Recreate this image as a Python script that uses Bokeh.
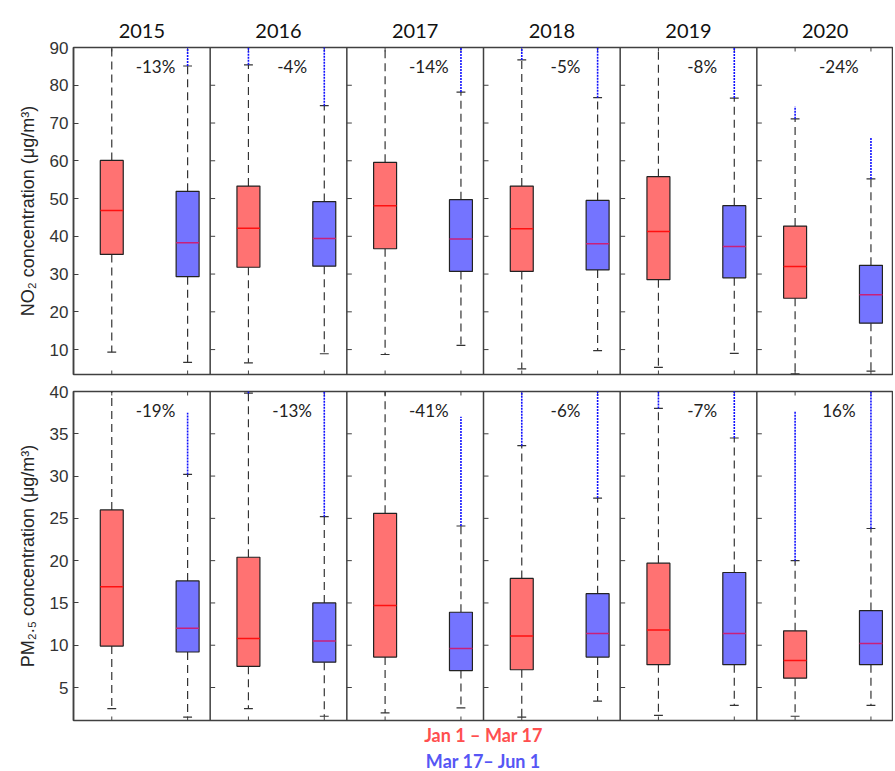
from bokeh.plotting import figure
from bokeh.layouts import column
from bokeh.models import Range1d, LinearAxis, FixedTicker, Title
from bokeh.core.properties import value
from bokeh.embed import file_html
from bokeh.resources import INLINE

# ---------------- data ----------------
years = ["2015", "2016", "2017", "2018", "2019", "2020"]

# NO2, period 1 (Jan 1 - Mar 17)
no2_red_q1 = [35.2, 31.8, 36.7, 30.7, 28.5, 23.6]
no2_red_med = [46.8, 42.1, 48.1, 42.0, 41.3, 32.0]
no2_red_q3 = [60.1, 53.3, 59.6, 53.3, 55.8, 42.7]
no2_red_lo = [9.3, 6.5, 8.7, 4.9, 5.3, 3.6]
no2_red_hi = [93.0, 85.4, 93.0, 86.7, 93.0, 71.1]
no2_red_out = [None, 93.0, None, 93.0, None, 74.4]
# NO2, period 2 (Mar 17 - Jun 1)
no2_blue_q1 = [29.3, 32.1, 30.7, 31.1, 29.0, 17.0]
no2_blue_med = [38.3, 39.4, 39.3, 38.0, 37.3, 24.5]
no2_blue_q3 = [51.9, 49.2, 49.7, 49.5, 48.1, 32.3]
no2_blue_lo = [6.6, 8.9, 11.1, 9.7, 9.0, 4.3]
no2_blue_hi = [85.1, 74.6, 78.2, 76.7, 76.6, 55.2]
no2_blue_out = [93.0, 93.0, 93.0, 93.0, 93.0, 66.2]
no2_pct = ["-13%", "-4%", "-14%", "-5%", "-8%", "-24%"]

# PM2.5, period 1
pm_red_q1 = [9.9, 7.5, 8.6, 7.1, 7.7, 6.1]
pm_red_med = [16.9, 10.8, 14.7, 11.1, 11.8, 8.2]
pm_red_q3 = [26.0, 20.4, 25.6, 17.9, 19.7, 11.7]
pm_red_lo = [2.5, 2.5, 2.0, 1.5, 1.7, 1.6]
pm_red_hi = [42.0, 39.8, 42.0, 33.6, 38.0, 20.0]
pm_red_out = [None, 42.0, None, 42.0, 42.0, 37.6]
# PM2.5, period 2
pm_blue_q1 = [9.2, 8.0, 7.0, 8.6, 7.7, 7.7]
pm_blue_med = [12.0, 10.5, 9.6, 11.4, 11.4, 10.2]
pm_blue_q3 = [17.6, 15.0, 13.9, 16.1, 18.6, 14.1]
pm_blue_lo = [1.5, 1.6, 2.6, 3.4, 2.9, 2.9]
pm_blue_hi = [30.2, 25.2, 24.1, 27.4, 34.5, 23.8]
pm_blue_out = [37.5, 42.0, 37.0, 42.0, 42.0, 42.0]
pm_pct = ["-19%", "-13%", "-41%", "-6%", "-7%", "16%"]

no2_ticks = [10, 20, 30, 40, 50, 60, 70, 80, 90]
pm_ticks = [5, 10, 15, 20, 25, 30, 35, 40]

legend_labels = ["Jan 1 \u2013 Mar 17", "Mar 17\u2013 Jun 1"]

# ---------------- style ----------------
RED_FILL = "#FF7272"
BLUE_FILL = "#7474FF"
RED_TXT = "#FF4F4F"
BLUE_TXT = "#5656F5"
FRAME_C = "#404040"
RED_OFF, BLUE_OFF = 0.28, 0.835
BOX_W, CAP_W = 0.168, 0.065
FRAME_W = 820
LEFT = 73
N = len(years)
PX_X = FRAME_W / N


def draw_group(p, offs, q1, med, q3, lo, hi, out, fill, med_color):
    xs = [i + offs for i in range(N)]
    # whiskers
    p.segment(x0=xs, x1=xs, y0=q3, y1=hi, line_color="#333333", line_width=1.2, line_dash="8 5")
    p.segment(x0=xs, x1=xs, y0=q1, y1=lo, line_color="#333333", line_width=1.2, line_dash="8 5")
    # caps
    cl = [x - CAP_W / 2 for x in xs]
    cr = [x + CAP_W / 2 for x in xs]
    p.segment(x0=cl, x1=cr, y0=hi, y1=hi, line_color="#333333", line_width=1.2)
    p.segment(x0=cl, x1=cr, y0=lo, y1=lo, line_color="#333333", line_width=1.2)
    # outliers (dense blue markers)
    ox = [x for x, o in zip(xs, out) if o is not None]
    oy0 = [h for h, o in zip(hi, out) if o is not None]
    oy1 = [o for o in out if o is not None]
    p.segment(x0=ox, x1=ox, y0=oy0, y1=oy1, line_color="#1010FF", line_width=1.6, line_dash="2 1")
    # boxes
    left = [x - BOX_W / 2 for x in xs]
    right = [x + BOX_W / 2 for x in xs]
    p.quad(left=left, right=right, bottom=q1, top=q3, fill_color=fill, fill_alpha=1.0,
           line_color="#222222", line_width=1.2)
    p.segment(x0=left, x1=right, y0=med, y1=med, line_color=med_color, line_width=1.5)


def make_panel(ymin, ymax, yticks, ylabel, red, blue, pcts, pct_y, frame_h, top_b, bot_b):
    p = figure(frame_width=FRAME_W, frame_height=frame_h,
               x_range=Range1d(0, N), y_range=Range1d(ymin, ymax),
               x_axis_location=None, output_backend="svg", toolbar_location=None,
               min_border_left=LEFT, min_border_right=0, min_border_top=top_b, min_border_bottom=bot_b)
    p.background_fill_color = "white"
    p.border_fill_color = "white"
    p.grid.visible = False
    p.outline_line_color = FRAME_C
    p.outline_line_width = 1.5
    p.outline_line_alpha = 1.0

    ax = p.yaxis[0]
    ax.ticker = FixedTicker(ticks=yticks)
    ax.major_tick_in = 5
    ax.major_tick_out = 0
    ax.minor_tick_line_color = None
    ax.axis_line_color = FRAME_C
    ax.axis_line_width = 1.5
    ax.major_tick_line_color = FRAME_C
    ax.major_label_text_font = "Liberation Sans"
    ax.major_label_text_font_size = "17px"
    ax.major_label_text_color = "#333333"
    ax.major_label_standoff = 5
    ax.axis_label = ylabel
    ax.axis_label_text_font = "Liberation Sans"
    ax.axis_label_text_font_size = "18px"
    ax.axis_label_text_font_style = "normal"
    ax.axis_label_text_color = "#262626"
    ax.axis_label_standoff = 9

    ppu_y = frame_h / (ymax - ymin)

    # panel dividers
    divs = list(range(1, N))
    p.segment(x0=divs, x1=divs, y0=[ymin] * len(divs), y1=[ymax] * len(divs),
              line_color=FRAME_C, line_width=1.5)
    # small inward ticks at each divider
    tx0, tx1, ty = [], [], []
    for d in divs:
        for t in yticks:
            tx0.append(d)
            tx1.append(d + 5 / PX_X)
            ty.append(t)
    p.segment(x0=tx0, x1=tx1, y0=ty, y1=ty, line_color=FRAME_C, line_width=1)
    # x ticks at box positions on top and bottom frame
    bx = [i + o for i in range(N) for o in (RED_OFF, BLUE_OFF)]
    p.segment(x0=bx, x1=bx, y0=[ymin] * len(bx), y1=[ymin + 4 / ppu_y] * len(bx), line_color=FRAME_C, line_width=1)
    p.segment(x0=bx, x1=bx, y0=[ymax] * len(bx), y1=[ymax - 4 / ppu_y] * len(bx), line_color=FRAME_C, line_width=1)

    draw_group(p, RED_OFF, *red, RED_FILL, "#FF1010")
    draw_group(p, BLUE_OFF, *blue, BLUE_FILL, "#C8207A")

    p.text(x=[i + 0.6 for i in range(N)], y=[pct_y] * N, text=pcts,
           text_font=value("Lato"), text_font_size="17px", text_color="#222222",
           text_align="center", text_baseline="middle")
    return p


top = make_panel(3.4, 90, no2_ticks, "NO\u2082 concentration (\u03bcg/m\u00b3)",
                 (no2_red_q1, no2_red_med, no2_red_q3, no2_red_lo, no2_red_hi, no2_red_out),
                 (no2_blue_q1, no2_blue_med, no2_blue_q3, no2_blue_lo, no2_blue_hi, no2_blue_out),
                 no2_pct, 85.0, 327, 47, 8)

year_axis = LinearAxis(ticker=FixedTicker(ticks=[i + 0.5 for i in range(N)]),
                       major_label_overrides={i + 0.5: y for i, y in enumerate(years)})
year_axis.major_tick_in = 0
year_axis.major_tick_out = 0
year_axis.minor_tick_line_color = None
year_axis.axis_line_color = None
year_axis.major_label_text_font = "Lato"
year_axis.major_label_text_font_size = "20px"
year_axis.major_label_text_color = "#111111"
year_axis.major_label_standoff = 10
top.add_layout(year_axis, "above")

bottom = make_panel(1.1, 40, pm_ticks, "PM\u2082.\u2085 concentration (\u03bcg/m\u00b3)",
                    (pm_red_q1, pm_red_med, pm_red_q3, pm_red_lo, pm_red_hi, pm_red_out),
                    (pm_blue_q1, pm_blue_med, pm_blue_q3, pm_blue_lo, pm_blue_hi, pm_blue_out),
                    pm_pct, 37.8, 329, 9, 0)

for lab, col, so in zip(legend_labels, [RED_TXT, BLUE_TXT], [3, 0]):
    t = Title(text=lab, align="center", text_font="Lato", text_font_style="bold",
              text_font_size="18px", text_color=col, standoff=so, offset=0)
    bottom.add_layout(t, "below")

layout = column(top, bottom, spacing=0)
open("out.html", "w").write(file_html(layout, INLINE))
